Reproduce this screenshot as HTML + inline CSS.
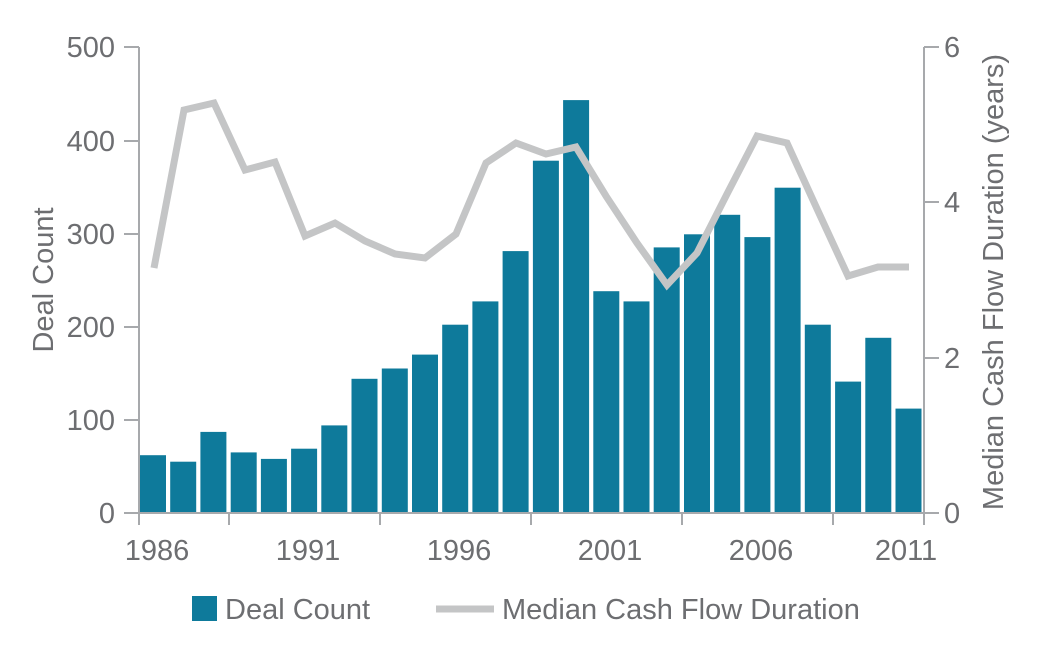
<!DOCTYPE html><html><head><style>body{margin:0;background:#fff}</style></head><body>
<svg width="1051" height="645" xmlns="http://www.w3.org/2000/svg" font-family="Liberation Sans, sans-serif" fill="#6d6e71">
<g fill="#0e7a9b">
<rect x="140" y="455.2" width="26" height="57.8"/>
<rect x="170.2" y="461.7" width="26" height="51.3"/>
<rect x="200.4" y="431.9" width="26" height="81.1"/>
<rect x="230.7" y="452.4" width="26" height="60.6"/>
<rect x="260.9" y="458.9" width="26" height="54.1"/>
<rect x="291.1" y="448.7" width="26" height="64.3"/>
<rect x="321.3" y="425.4" width="26" height="87.6"/>
<rect x="351.5" y="378.8" width="26" height="134.2"/>
<rect x="381.8" y="368.5" width="26" height="144.5"/>
<rect x="412" y="354.6" width="26" height="158.4"/>
<rect x="442.2" y="324.7" width="26" height="188.3"/>
<rect x="472.4" y="301.4" width="26" height="211.6"/>
<rect x="502.6" y="251.1" width="26" height="261.9"/>
<rect x="532.9" y="160.7" width="26" height="352.3"/>
<rect x="563.1" y="100.1" width="26" height="412.9"/>
<rect x="593.3" y="291.2" width="26" height="221.8"/>
<rect x="623.5" y="301.4" width="26" height="211.6"/>
<rect x="653.7" y="247.4" width="26" height="265.6"/>
<rect x="684" y="234.3" width="26" height="278.7"/>
<rect x="714.2" y="214.8" width="26" height="298.2"/>
<rect x="744.4" y="237.1" width="26" height="275.9"/>
<rect x="774.6" y="187.7" width="26" height="325.3"/>
<rect x="804.8" y="324.7" width="26" height="188.3"/>
<rect x="835.1" y="381.6" width="26" height="131.4"/>
<rect x="865.3" y="337.8" width="26" height="175.2"/>
<rect x="895.5" y="408.6" width="26" height="104.4"/>
</g>
<polyline fill="none" stroke="#c4c5c6" stroke-width="7" stroke-linejoin="miter" points="154,268 184,110 214,103 245,170 275,162 305,236 335,223 365,241 395,254 425,258 456,234 486,163 516,143 546,154 576,147 606,196 637,243 667,285 697,253 727,194 757,136 787,143 818,211 848,276 878,267 909,267"/>
<g stroke="#a7a9ac" stroke-width="2">
<line x1="139" y1="47" x2="139" y2="525"/>
<line x1="924" y1="47" x2="924" y2="525"/>
<line x1="124" y1="513" x2="924" y2="513"/>
<line x1="124" y1="420" x2="139" y2="420"/><line x1="124" y1="327" x2="139" y2="327"/><line x1="124" y1="234" x2="139" y2="234"/><line x1="124" y1="141" x2="139" y2="141"/><line x1="124" y1="47" x2="139" y2="47"/>
<line x1="924" y1="47" x2="939" y2="47"/><line x1="924" y1="202" x2="939" y2="202"/><line x1="924" y1="358" x2="939" y2="358"/><line x1="924" y1="513" x2="939" y2="513"/>
<line x1="229" y1="513" x2="229" y2="525"/><line x1="380" y1="513" x2="380" y2="525"/><line x1="531" y1="513" x2="531" y2="525"/><line x1="682" y1="513" x2="682" y2="525"/><line x1="833" y1="513" x2="833" y2="525"/>
</g>
<g font-size="29" text-anchor="end">
<text x="115" y="523">0</text><text x="115" y="430">100</text><text x="115" y="337">200</text><text x="115" y="244">300</text><text x="115" y="151">400</text><text x="115" y="57">500</text>
</g>
<g font-size="29" text-anchor="start">
<text x="944" y="523">0</text><text x="944" y="368">2</text><text x="944" y="212">4</text><text x="944" y="57">6</text>
</g>
<g font-size="29" text-anchor="middle">
<text x="157" y="560">1986</text><text x="308" y="560">1991</text><text x="459" y="560">1996</text><text x="610" y="560">2001</text><text x="761" y="560">2006</text><text x="906" y="560">2011</text>
</g>
<text font-size="29" text-anchor="middle" transform="translate(53,280) rotate(-90)">Deal Count</text>
<text font-size="29" text-anchor="middle" transform="translate(1003,282) rotate(-90)">Median Cash Flow Duration (years)</text>
<rect x="192" y="596" width="25" height="25" fill="#0e7a9b"/>
<text x="225" y="619" font-size="29">Deal Count</text>
<line x1="436" y1="609" x2="494" y2="609" stroke="#c4c5c6" stroke-width="7"/>
<text x="502" y="619" font-size="29">Median Cash Flow Duration</text>
</svg>
</body></html>
